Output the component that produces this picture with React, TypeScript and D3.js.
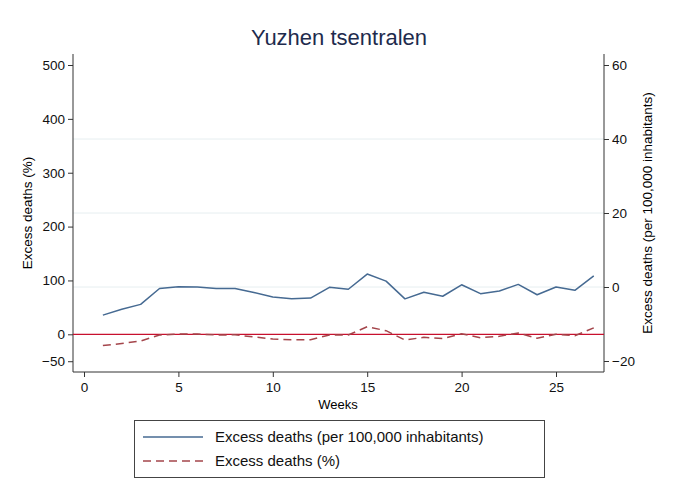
import React, { useEffect, useRef } from "react";
import * as d3 from "d3";

// weekly data
const weeks = d3.range(1, 28);
const perHundredK = [
  -7.6, -6.0, -4.7, -0.4, 0.1, 0.0, -0.4, -0.4, -1.5, -2.7, -3.2, -3.0, -0.1,
  -0.6, 3.5, 1.6, -3.2, -1.4, -2.5, 0.6, -1.8, -1.1, 0.7, -2.1, 0.0, -0.9, 3.0,
];
const pctExcess = [
  -21, -17, -12.4, -1.3, 0.5, 0.5, -1.3, -1, -5, -8.7, -10, -10, -1.3, -1.3, 14,
  6.7, -10.6, -5.6, -8, 1, -6.3, -3.7, 2.4, -7.4, 0, -2.6, 12,
];
const leftTicks = [-50, 0, 100, 200, 300, 400, 500];
const rightTicks = [-20, 0, 20, 40, 60];
const xTicks = [0, 5, 10, 15, 20, 25];
const gridTicks = [0, 20, 40];

const title = "Yuzhen tsentralen";
const legendLabels = ["Excess deaths (per 100,000 inhabitants)", "Excess deaths (%)"];

const W = 679,
  H = 495;
const font = "Liberation Sans, Arial, Helvetica, sans-serif";
const blue = "#466a92";
const maroon = "#a4454b";

const App: React.FC = () => {
  const ref = useRef<SVGSVGElement | null>(null);

  useEffect(() => {
    const svg = d3.select(ref.current);
    svg.selectAll("*").remove();

    const plot = { left: 73, right: 604, top: 54, bottom: 372 };
    const midY = (plot.top + plot.bottom) / 2;

    const x = d3.scaleLinear().domain([0, 25]).range([84, 556]);
    const yL = d3.scaleLinear().domain([0, 500]).range([334.3, 65]);
    const yR = d3.scaleLinear().domain([0, 60]).range([287, 65]);

    svg.append("rect").attr("width", W).attr("height", H).attr("fill", "#fff");

    // gridlines (right axis)
    svg
      .append("g")
      .selectAll("line")
      .data(gridTicks)
      .join("line")
      .attr("x1", plot.left)
      .attr("x2", plot.right)
      .attr("y1", (d) => yR(d))
      .attr("y2", (d) => yR(d))
      .attr("stroke", "#e6eef0")
      .attr("stroke-width", 1);

    // left axis
    const gl = svg
      .append("g")
      .attr("transform", `translate(${plot.left},0)`)
      .call(d3.axisLeft(yL).tickValues(leftTicks).tickSize(5).tickPadding(3));
    gl.select(".domain").attr("d", `M0,${plot.top}V${plot.bottom}`);

    // right axis
    const gr = svg
      .append("g")
      .attr("transform", `translate(${plot.right},0)`)
      .call(d3.axisRight(yR).tickValues(rightTicks).tickSize(5).tickPadding(3));
    gr.select(".domain").attr("d", `M0,${plot.top}V${plot.bottom}`);

    // bottom axis
    const gb = svg
      .append("g")
      .attr("transform", `translate(0,${plot.bottom})`)
      .call(d3.axisBottom(x).tickValues(xTicks).tickSize(5).tickPadding(5));
    gb.select(".domain").attr("d", `M${plot.left},0H${plot.right}`);

    svg
      .selectAll(".tick text")
      .attr("font-family", font)
      .attr("font-size", 13.5)
      .attr("fill", "#111");
    svg.selectAll(".domain, .tick line").attr("stroke", "#333");

    // zero reference line
    svg
      .append("line")
      .attr("x1", plot.left)
      .attr("x2", plot.right)
      .attr("y1", yL(0))
      .attr("y2", yL(0))
      .attr("stroke", "#c8102e")
      .attr("stroke-width", 1.3);

    const lineR = d3
      .line<number>()
      .x((_, i) => x(weeks[i]))
      .y((d) => yR(d));
    const lineL = d3
      .line<number>()
      .x((_, i) => x(weeks[i]))
      .y((d) => yL(d));

    svg
      .append("path")
      .datum(pctExcess)
      .attr("fill", "none")
      .attr("stroke", maroon)
      .attr("stroke-width", 1.5)
      .attr("stroke-dasharray", "8,5")
      .attr("d", lineL);

    svg
      .append("path")
      .datum(perHundredK)
      .attr("fill", "none")
      .attr("stroke", blue)
      .attr("stroke-width", 1.5)
      .attr("stroke-linejoin", "round")
      .attr("d", lineR);

    // titles
    svg
      .append("text")
      .attr("x", 339)
      .attr("y", 45)
      .attr("text-anchor", "middle")
      .attr("font-family", font)
      .attr("font-size", 22)
      .attr("fill", "#1e2b4d")
      .text(title);

    svg
      .append("text")
      .attr("transform", `translate(32,${midY}) rotate(-90)`)
      .attr("text-anchor", "middle")
      .attr("font-family", font)
      .attr("font-size", 13.5)
      .text("Excess deaths (%)");

    svg
      .append("text")
      .attr("transform", `translate(652,${midY}) rotate(-90)`)
      .attr("text-anchor", "middle")
      .attr("font-family", font)
      .attr("font-size", 13.5)
      .text("Excess deaths (per 100,000 inhabitants)");

    svg
      .append("text")
      .attr("x", 338)
      .attr("y", 409)
      .attr("text-anchor", "middle")
      .attr("font-family", font)
      .attr("font-size", 13)
      .text("Weeks");

    // legend
    const lg = svg.append("g");
    lg.append("rect")
      .attr("x", 134.5)
      .attr("y", 420.5)
      .attr("width", 410)
      .attr("height", 57)
      .attr("fill", "#fff")
      .attr("stroke", "#444")
      .attr("stroke-width", 1);
    const styles = [
      { color: blue, dash: null },
      { color: maroon, dash: "8,5" },
    ];
    legendLabels.forEach((lab, i) => {
      const yy = 437 + i * 24;
      lg.append("line")
        .attr("x1", 143)
        .attr("x2", 203)
        .attr("y1", yy)
        .attr("y2", yy)
        .attr("stroke", styles[i].color)
        .attr("stroke-width", 1.5)
        .attr("stroke-dasharray", styles[i].dash);
      lg.append("text")
        .attr("x", 215)
        .attr("y", yy + 5)
        .attr("font-family", font)
        .attr("font-size", 15)
        .attr("fill", "#111")
        .text(lab);
    });
  }, []);

  return (
    <svg
      ref={ref}
      width={W}
      height={H}
      style={{ position: "absolute", left: 0, top: 0 }}
    ></svg>
  );
};

export default App;
